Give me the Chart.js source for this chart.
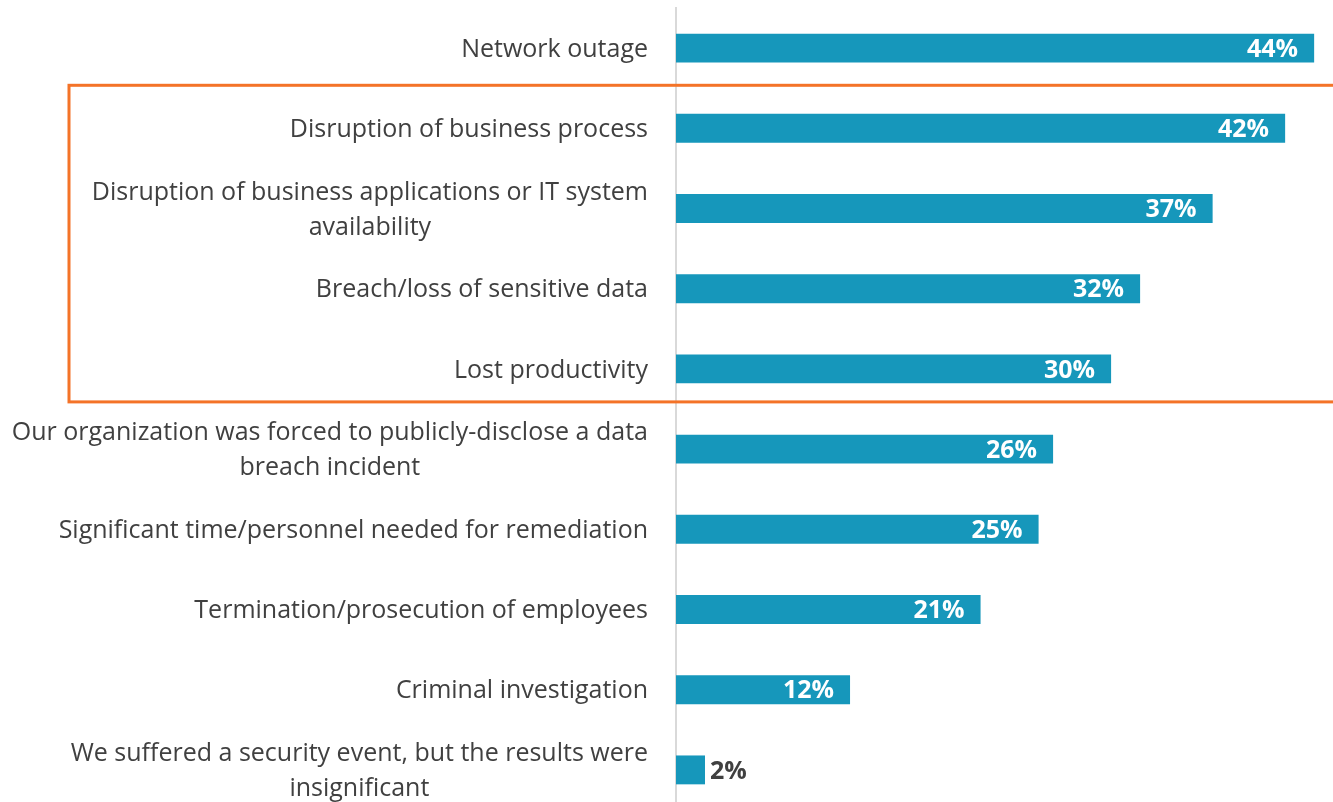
<!DOCTYPE html>
<html>
<head>
<meta charset="utf-8">
<script src="https://cdn.jsdelivr.net/npm/chart.js@4.4.0/dist/chart.umd.min.js"></script>
<style>
  html, body { margin: 0; padding: 0; background: #fff; overflow: hidden; }
  #wrap { position: relative; width: 1333px; height: 810px; }
</style>
</head>
<body>
<div id="wrap"><canvas id="c"></canvas></div>
<script>
const categories = [
  ["Network outage"],
  ["Disruption of business process"],
  ["Disruption of business applications or IT system", "availability"],
  ["Breach/loss of sensitive data"],
  ["Lost productivity"],
  ["Our organization was forced to publicly-disclose a data", "breach incident"],
  ["Significant time/personnel needed for remediation"],
  ["Termination/prosecution of employees"],
  ["Criminal investigation"],
  ["We suffered a security event, but the results were", "insignificant"]
];
const values = [44, 42, 37, 32, 30, 26, 25, 21, 12, 2];
const highlightRange = [1, 4];

const FONT = "'Open Sans', Lato, sans-serif";
const TEXT = "#404040";
const BAR = "#1697bb";

const labelPlugin = {
  id: 'labels',
  afterDraw(chart) {
    const ctx = chart.ctx;
    const y = chart.scales.y;
    const area = chart.chartArea;
    ctx.save();
    // category labels
    ctx.font = "25px " + FONT;
    ctx.fillStyle = TEXT;
    ctx.textAlign = 'center';
    ctx.textBaseline = 'middle';
    const rightEdge = area.left - 28;
    const lh = 35;
    categories.forEach((lines, i) => {
      const cy = y.getPixelForValue(i) + 1.5;
      const w = Math.max(...lines.map(l => ctx.measureText(l).width));
      const cx = rightEdge - w / 2;
      const y0 = cy - (lines.length - 1) * lh / 2;
      lines.forEach((l, k) => ctx.fillText(l, cx, y0 + k * lh));
    });
    // value labels
    ctx.font = "bold 25px " + FONT;
    const meta = chart.getDatasetMeta(0);
    meta.data.forEach((bar, i) => {
      const txt = values[i] + "%";
      const tw = ctx.measureText(txt).width;
      if (bar.x - bar.base > tw + 24) {
        ctx.fillStyle = "#ffffff";
        ctx.textAlign = 'right';
        ctx.fillText(txt, bar.x - 16, bar.y + 1.5);
      } else {
        ctx.fillStyle = TEXT;
        ctx.textAlign = 'left';
        ctx.fillText(txt, bar.x + 5, bar.y + 1.5);
      }
    });
    // highlight box
    const top = y.getPixelForValue(highlightRange[0]) - 43;
    const bottom = y.getPixelForValue(highlightRange[1]) + 33;
    ctx.strokeStyle = "#f47328";
    ctx.lineWidth = 3;
    ctx.strokeRect(69, top, chart.width + 20, bottom - top);
    ctx.restore();
  }
};

new Chart(document.getElementById('c'), {
  type: 'bar',
  data: {
    labels: categories.map(l => l.join(' ')),
    datasets: [{
      data: values,
      backgroundColor: BAR,
      borderWidth: 0,
      barPercentage: 0.36,
      categoryPercentage: 1.0
    }]
  },
  options: {
    indexAxis: 'y',
    responsive: true,
    maintainAspectRatio: false,
    animation: false,
    layout: { padding: { left: 676, top: 8, right: 0, bottom: 0 } },
    plugins: { legend: { display: false }, tooltip: { enabled: false } },
    scales: {
      x: { display: false, min: 0, max: 45.3 },
      y: {
        ticks: { display: false },
        grid: { display: false, drawTicks: false },
        border: { display: true, color: '#d9d9d9', width: 2 }
      }
    }
  },
  plugins: [labelPlugin]
});
</script>
</body>
</html>
